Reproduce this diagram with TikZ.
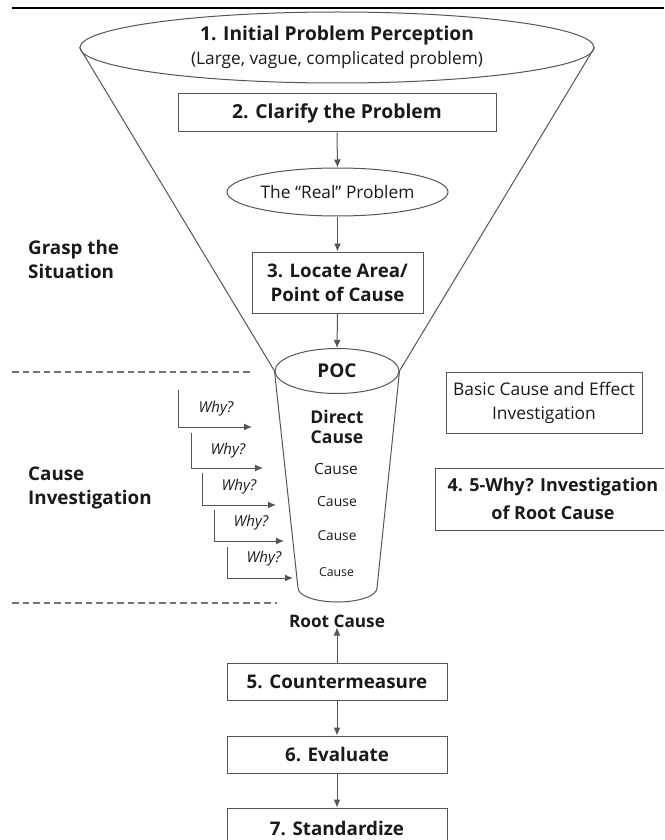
\documentclass[tikz,border=0pt]{standalone}
\usepackage{fontspec}
\setmainfont{Open Sans}
\usetikzlibrary{shapes.geometric,arrows.meta}
\definecolor{ink}{HTML}{1A1A1A}
\definecolor{linec}{HTML}{555555}
\tikzset{
  every node/.style={text=ink},
  flowbox/.style={draw=linec,line width=1pt,rectangle,inner sep=0pt,align=center,font=\fontsize{18.8}{24}\selectfont\bfseries},
  ovalnode/.style={draw=linec,line width=1pt,ellipse,inner sep=0pt,align=center},
  arr/.style={draw=linec,line width=1pt,-{Latex[length=8pt,width=7pt]}},
  funnel/.style={draw=linec,line width=1pt},
  dashline/.style={draw=black!55,line width=1.4pt,dash pattern=on 6.5pt off 4pt},
  sidelabel/.style={anchor=west,align=left,inner sep=0pt,font=\fontsize{18.8}{24}\selectfont\bfseries},
  whylabel/.style={inner sep=0pt,font=\fontsize{15}{16}\selectfont\itshape},
  causelabel/.style={inner sep=0pt},
}
\begin{document}
\begin{tikzpicture}[x=1pt,y=-1pt]
\useasboundingbox (0,0) rectangle (664,840);
\clip (0,0) rectangle (664,840);
% top rule
\draw[line width=2.5pt,black] (12,8) -- (664,8);
% top ellipse
\node[ovalnode,minimum width=514pt,minimum height=71pt,font=\fontsize{17.3}{24}\selectfont] (big) at (337,47.5)
  {{\fontsize{19.2}{24}\selectfont\bfseries 1. Initial Problem Perception}\\(Large, vague, complicated problem)};
\node[flowbox,minimum width=318pt,minimum height=38pt,font=\fontsize{19.3}{24}\selectfont\bfseries] (clarify) at (337,113) {2. Clarify the Problem};
\node[ovalnode,minimum width=221pt,minimum height=48pt,font=\fontsize{17.3}{20}\selectfont] (real) at (337.5,192) {The ``Real'' Problem};
\node[flowbox,minimum width=171pt,minimum height=61pt,font=\fontsize{18.7}{24}\selectfont\bfseries] (locate) at (337.5,282.5) {3. Locate Area/\\Point of Cause};
\node[ovalnode,minimum width=124pt,minimum height=45pt,font=\fontsize{19}{20}\selectfont\bfseries] (poc) at (337,371) {POC};
% funnel
\draw[funnel] (big.west) -- (poc.west);
\draw[funnel] (big.east) -- (poc.east);
% cylinder body
\coordinate (cylbl) at (298,588);
\coordinate (cylbr) at (377,588);
\draw[funnel] (poc.west) -- (cylbl) arc[start angle=180,end angle=0,x radius=39.5,y radius=14] -- (poc.east);
% arrows top part
\draw[arr] (clarify.south) -- (real.north);
\draw[arr] (real.south) -- (locate.north);
\draw[arr] (locate.south) -- (poc.north);
% cylinder text
\node[causelabel,align=center,font=\fontsize{17.6}{20.5}\selectfont\bfseries] (direct) at (337,427) {Direct\\Cause};
\node[causelabel,font=\fontsize{15.4}{16}\selectfont] (c1) at (336,469) {Cause};
\node[causelabel,font=\fontsize{14}{16}\selectfont] (c2) at (337,501) {Cause};
\node[causelabel,font=\fontsize{13.7}{16}\selectfont] (c3) at (337,536) {Cause};
\node[causelabel,font=\fontsize{12.3}{16}\selectfont] (c4) at (336.5,572) {Cause};
% why arrows
\coordinate (w1a) at (178,390); \coordinate (w1b) at (252,427);
\coordinate (w2a) at (191,433); \coordinate (w2b) at (263,468);
\coordinate (w3a) at (202,473); \coordinate (w3b) at (276,505);
\coordinate (w4a) at (214,510); \coordinate (w4b) at (284,541);
\coordinate (w5a) at (227,547); \coordinate (w5b) at (293,578);
\draw[arr] (w1a) |- (w1b);
\draw[arr] (w2a) |- (w2b);
\draw[arr] (w3a) |- (w3b);
\draw[arr] (w4a) |- (w4b);
\draw[arr] (w5a) |- (w5b);
\node[whylabel] (y1) at (216,409) {Why?};
\node[whylabel] (y2) at (228,451) {Why?};
\node[whylabel] (y3) at (239,487) {Why?};
\node[whylabel] (y4) at (251,523) {Why?};
\node[whylabel] (y5) at (264,559) {Why?};
% dashed separators
\coordinate (d1a) at (12,372); \coordinate (d1b) at (253,372);
\coordinate (d2a) at (12,603); \coordinate (d2b) at (277,603);
\draw[dashline] (d1a) -- (d1b);
\draw[dashline] (d2a) -- (d2b);
% side labels
\node[sidelabel] (grasp) at (28,259) {Grasp the\\Situation};
\node[sidelabel] (causeinv) at (28,488) {Cause\\Investigation};
% right boxes
\node[flowbox,minimum width=196pt,minimum height=61pt,font=\fontsize{17.4}{24}\selectfont] (basic) at (544,402.5) {Basic Cause and Effect\\Investigation};
\node[flowbox,minimum width=236pt,minimum height=62pt,font=\fontsize{18}{28}\selectfont\bfseries] (five) at (553,499) {4. 5-Why? Investigation\\of Root Cause};
% bottom
\node[inner sep=0pt,font=\fontsize{17.2}{18}\selectfont\bfseries] (root) at (337,621) {Root Cause};
\node[flowbox,minimum width=220pt,minimum height=37pt] (counter) at (337,681.5) {5. Countermeasure};
\node[flowbox,minimum width=220pt,minimum height=37pt] (eval) at (337,754.5) {6. Evaluate};
\node[flowbox,minimum width=220pt,minimum height=40pt] (stand) at (337,828) {7. Standardize};
\draw[arr] (counter.north) -- (root.south);
\draw[arr] (counter.south) -- (eval.north);
\draw[arr] (eval.south) -- (stand.north);
\end{tikzpicture}
\end{document}
